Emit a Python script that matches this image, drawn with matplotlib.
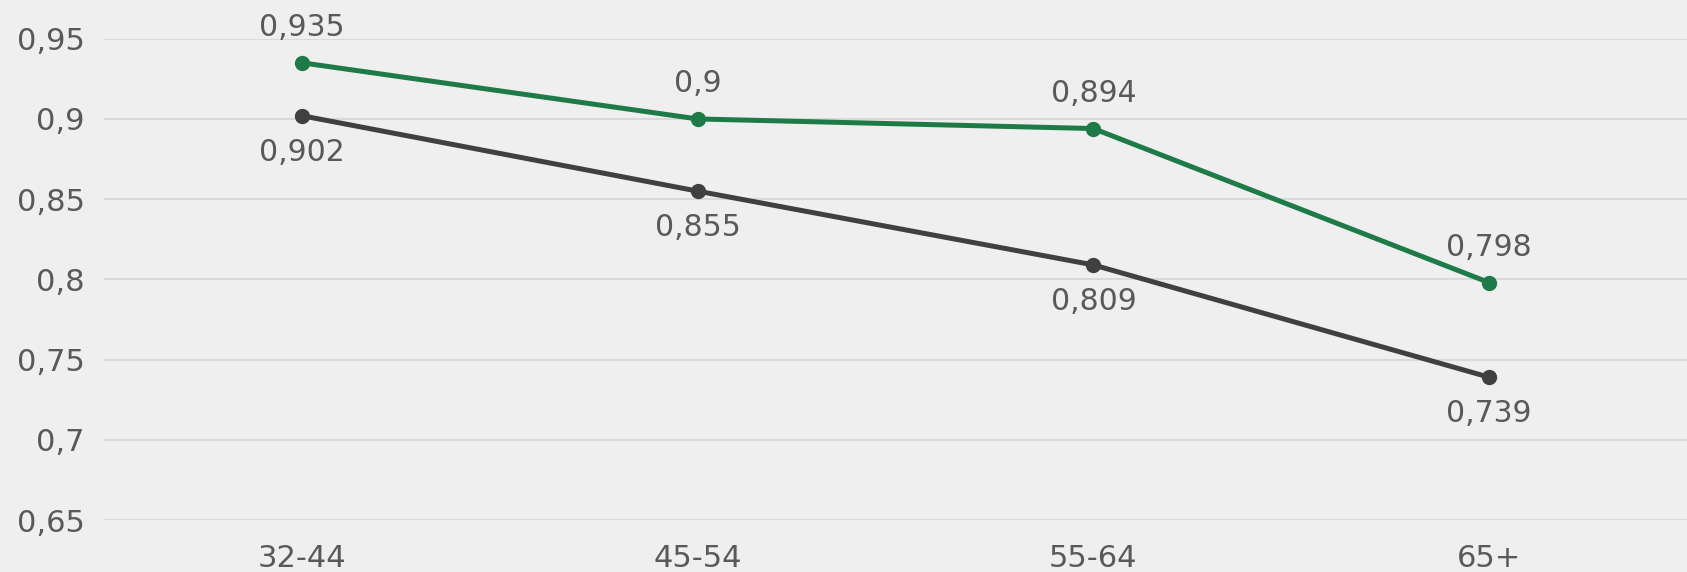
import matplotlib
matplotlib.use("Agg")
import matplotlib.pyplot as plt

categories = ["32-44", "45-54", "55-64", "65+"]
series_green = [0.935, 0.900, 0.894, 0.798]
series_dark = [0.902, 0.855, 0.809, 0.739]
y_ticks = [0.65, 0.70, 0.75, 0.80, 0.85, 0.90, 0.95]


def fmt(v):
    s = f"{v:.3f}".rstrip("0").rstrip(".")
    return s.replace(".", ",")


BG = "#efefef"
GREEN = "#1e7a46"
DARK = "#404040"
TXT = "#595959"

plt.rcParams["font.family"] = ["DejaVu Sans"]

fig = plt.figure(figsize=(16.87, 5.72), dpi=100, facecolor=BG)
ax = fig.add_axes([0.0617, 0.0909, 0.9383, 0.8414], facecolor=BG)

x = list(range(len(categories)))
ax.plot(x, series_dark, color=DARK, lw=3.6, marker="o", ms=10, zorder=3)
ax.plot(x, series_green, color=GREEN, lw=3.6, marker="o", ms=10, zorder=4)

label_font = dict(fontsize=21.5, color=TXT)
for xi, v in zip(x, series_green):
    ax.annotate(fmt(v), (xi, v), xytext=(0, 15), textcoords="offset points",
                ha="center", va="bottom", **label_font)
for xi, v in zip(x, series_dark):
    ax.annotate(fmt(v), (xi, v), xytext=(0, -16), textcoords="offset points",
                ha="center", va="top", **label_font)

ax.set_xlim(-0.5, len(categories) - 0.5)
ax.set_ylim(0.65, 0.95)
ax.set_yticks(y_ticks)
ax.set_yticklabels([fmt(t) for t in y_ticks])
ax.set_xticks(x)
ax.set_xticklabels(categories)
ax.grid(axis="y", color="#d9d9d9", lw=1.5)
ax.set_axisbelow(True)
ax.tick_params(length=0, colors=TXT, labelsize=22)
ax.tick_params(axis="y", pad=14)
ax.tick_params(axis="x", pad=17)
for s in ax.spines.values():
    s.set_visible(False)

fig.savefig("out.png", dpi=100, facecolor=BG)
